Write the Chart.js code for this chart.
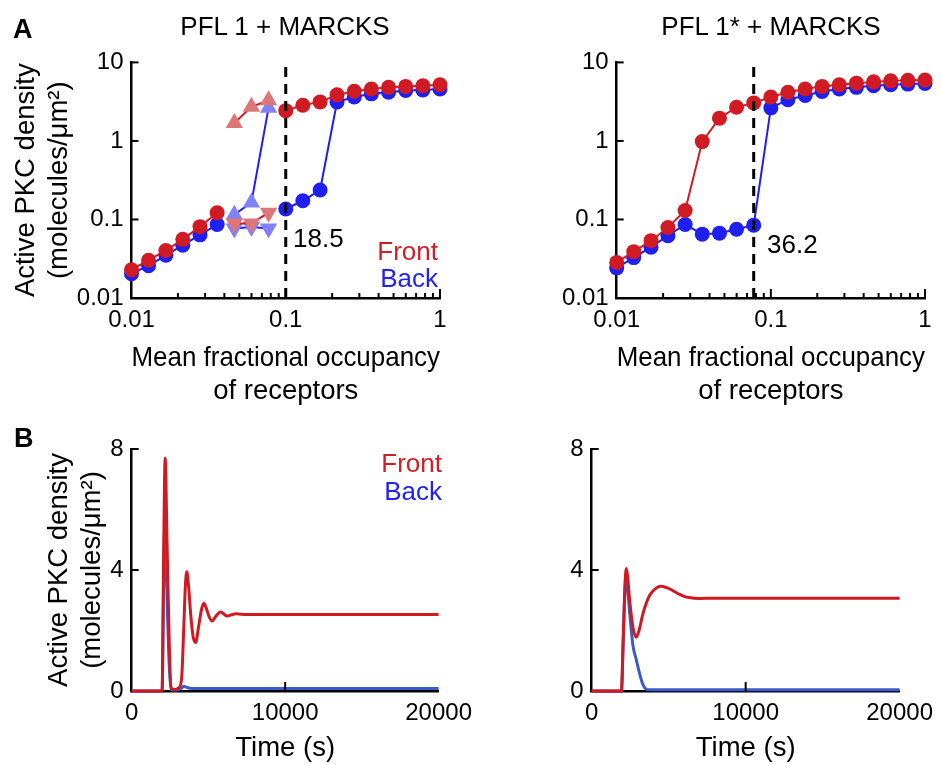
<!DOCTYPE html>
<html>
<head>
<meta charset="utf-8">
<script src="https://cdn.jsdelivr.net/npm/chart.js@4.4.0/dist/chart.umd.min.js"></script>
<style>
    body { margin: 0; width: 941px; height: 765px; background: #fff; position: relative; overflow: hidden;
           font-family: "Liberation Sans", Arial, sans-serif; }
    canvas { position: absolute; }
    .txt { position: absolute; font-size: 26px; line-height: 26px; white-space: nowrap; color: #000; }
    .panel { font-weight: bold; font-size: 27px; line-height: 27px; }
    .title { width: 400px; text-align: center; }
    .legend { width: 100px; text-align: right; }
    .front { color: #d11f26; }
    .back { color: #2222f0; }
</style>
</head>
<body>
<canvas id="chartA1" width="470" height="400" style="left:0;top:40px"></canvas>
<canvas id="chartA2" width="461" height="400" style="left:480px;top:40px"></canvas>
<canvas id="chartB1" width="480" height="345" style="left:0;top:420px"></canvas>
<canvas id="chartB2" width="461" height="345" style="left:480px;top:420px"></canvas>

<div class="txt panel" style="left:13px;top:16px">A</div>
<div class="txt panel" style="left:14px;top:425px">B</div>
<div class="txt title" style="left:85px;top:13px">PFL 1 + MARCKS</div>
<div class="txt title" style="left:571px;top:13px">PFL 1* + MARCKS</div>
<div class="txt legend front" style="left:338px;top:238px">Front</div>
<div class="txt legend back" style="left:338px;top:265px">Back</div>
<div class="txt" style="left:293px;top:225px">18.5</div>
<div class="txt" style="left:767px;top:231px">36.2</div>
<div class="txt legend front" style="left:342px;top:450px">Front</div>
<div class="txt legend back" style="left:342px;top:478px">Back</div>

<script>
// Panel A: steady-state PKC vs. mean receptor occupancy (log-log)
const occupancy = [0.01, 0.0129, 0.0167, 0.0215, 0.0278, 0.0359, 0.0464, 0.0599, 0.0774, 0.1,
                   0.129, 0.167, 0.215, 0.278, 0.359, 0.464, 0.599, 0.774, 1];
const pfl1Front = [0.0229, 0.0303, 0.0403, 0.0558, 0.081, 0.122, null, null, null, 2.43,
                   2.85, 3.14, 3.86, 4.29, 4.59, 4.81, 4.95, 5.05, 5.19];
const pfl1Back  = [0.0204, 0.0258, 0.035, 0.047, 0.0637, 0.0863, null, null, null, 0.136,
                   0.173, 0.237, 3.14, 3.62, 3.98, 4.17, 4.38, 4.46, 4.59];
// bistable branches (faded triangles)
const branchOcc      = [0.0464, 0.0599, 0.0774];
const pfl1FrontUp    = [1.69, 2.72, 3.29];
const pfl1FrontDown  = [0.089, 0.089, 0.122];
const pfl1BackUp     = [0.115, 0.165, 2.65];
const pfl1BackDown   = [0.077, 0.08, 0.077];
const pfl1sFront = [0.0284, 0.0389, 0.0537, 0.079, 0.130, 0.98, 1.95, 2.69, 3.05, 3.62,
                    4.17, 4.59, 4.95, 5.19, 5.44, 5.65, 5.82, 5.93, 5.98];
const pfl1sBack  = [0.0242, 0.0327, 0.0444, 0.062, 0.0863, 0.065, 0.0669, 0.075, 0.0847, 2.64,
                    3.35, 3.79, 4.26, 4.59, 4.81, 5.05, 5.19, 5.29, 5.39];
const thresholdA1 = 0.1;
const thresholdA2 = 0.0774;
const occTicks = [0.01, 0.1, 1];
const pkcTicks = [0.01, 0.1, 1, 10];
const occMinor = [0.02, 0.03, 0.04, 0.05, 0.06, 0.07, 0.08, 0.09, 0.2, 0.3, 0.4, 0.5, 0.6, 0.7, 0.8, 0.9];

// Panel B: time courses
const timeB1  = [0, 1980, 2080, 2180, 2300, 2450, 2570, 2800, 3050, 3250, 3400, 3500, 3590, 3700, 3850, 4000,
                 4170, 4350, 4550, 4700, 4850, 5050, 5240, 5450, 5780, 6000, 6200, 6500, 6800, 7500, 20000];
const frontB1 = [0, 0, 4.5, 7.7, 5.0, 1.5, 0.1, 0.05, 0.1, 0.4, 2.2, 3.5, 3.94, 3.5, 2.5, 1.8,
                 1.6, 2.1, 2.7, 2.9, 2.75, 2.45, 2.31, 2.45, 2.61, 2.55, 2.48, 2.52, 2.55, 2.53, 2.53];
const backB1  = [0, 0, 3.5, 6.0, 3.2, 0.8, 0.05, 0.03, 0.05, 0.1, 0.16, 0.14, 0.12, 0.1, 0.09, 0.08,
                 0.08, 0.08, 0.08, 0.08, 0.08, 0.08, 0.08, 0.08, 0.08, 0.08, 0.08, 0.08, 0.08, 0.08, 0.08];
const timeB2  = [0, 1930, 2050, 2150, 2250, 2350, 2465, 2680, 2890, 3100, 3300, 3540, 3750, 3965, 4250,
                 4500, 4800, 5040, 5400, 5680, 6000, 6320, 6970, 8000, 20000];
const frontB2 = [0, 0, 1.8, 3.4, 4.05, 3.7, 3.0, 2.1, 1.78, 2.05, 2.5, 2.9, 3.15, 3.3, 3.42,
                 3.46, 3.43, 3.38, 3.28, 3.2, 3.13, 3.09, 3.06, 3.07, 3.07];
const backB2  = [0, 0, 1.7, 3.2, 3.8, 3.3, 2.6, 1.5, 1.05, 0.6, 0.25, 0.06, 0.04, 0.04, 0.04,
                 0.04, 0.04, 0.04, 0.04, 0.04, 0.04, 0.04, 0.04, 0.04, 0.04];
const timeTicks = [0, 10000, 20000];
const densityTicks = [0, 4, 8];

const FONT = "'Liberation Sans', Arial, sans-serif";
const RED = '#d11b24', BLUE = '#1f1ff0';
const RED_FADED = '#dd7676', BLUE_FADED = '#8282f8';
const RED_B = '#d01a22', BLUE_B = '#3b5bc8';
const Y_TITLE = ['Active PKC density', '(molecules/\u03bcm\u00b2)'];

// MATLAB style ticks pointing into the axes
const inwardTicks = {
    id: 'inwardTicks',
    afterDraw(chart, args, opts) {
        const ctx = chart.ctx;
        const area = chart.chartArea;
        const xs = chart.scales.x, ys = chart.scales.y;
        ctx.save();
        ctx.strokeStyle = '#000';
        ctx.lineWidth = 2;
        const seg = (x1, y1, x2, y2) => { ctx.beginPath(); ctx.moveTo(x1, y1); ctx.lineTo(x2, y2); ctx.stroke(); };
        (opts.xMajor || []).forEach(v => { const p = xs.getPixelForValue(v); seg(p, area.bottom, p, area.bottom - 9); });
        (opts.xMinor || []).forEach(v => { const p = xs.getPixelForValue(v); seg(p, area.bottom, p, area.bottom - 5); });
        (opts.yMajor || []).forEach(v => { const p = ys.getPixelForValue(v); seg(area.left, p, area.left + 7, p); });
        ctx.restore();
    }
};
Chart.register(inwardTicks);

function pts(xs, ys) {
    return xs.map((x, i) => ({ x: x, y: ys[i] }));
}

function markerSet(data, color, style, radius, lineColor, rotation) {
    return {
        data: data,
        borderColor: lineColor || color,
        backgroundColor: color,
        pointBackgroundColor: color,
        pointBorderColor: color,
        pointBorderWidth: 0,
        pointStyle: style,
        pointRadius: radius,
        pointRotation: rotation || 0,
        borderWidth: 2,
        spanGaps: false,
        clip: false
    };
}

function traceSet(data, color) {
    return {
        data: data,
        borderColor: color,
        borderWidth: 3,
        pointRadius: 0,
        cubicInterpolationMode: 'monotone',
        clip: false
    };
}

function thresholdSet(x) {
    return {
        data: [{ x: x, y: 0.01 }, { x: x, y: 10 }],
        borderColor: '#000',
        borderWidth: 3,
        borderDash: [10, 7],
        pointRadius: 0,
        clip: false
    };
}

function axis(type, min, max, ticks, fitKey, fitSize, title, titlePad) {
    return {
        type: type, min: min, max: max,
        afterBuildTicks: s => { s.ticks = ticks.map(v => ({ value: v })); },
        afterFit: s => { s[fitKey] = fitSize; },
        grid: { drawOnChartArea: false, drawTicks: false },
        border: { color: '#000', width: 2.5 },
        ticks: {
            color: '#000', autoSkip: false, maxRotation: 0, padding: 8,
            font: { family: FONT, size: 24 },
            callback: v => String(v)
        },
        title: {
            display: !!title, text: title || '', color: '#000',
            font: { family: FONT, size: 27.5, lineHeight: 1.2 },
            padding: titlePad || 0
        }
    };
}

function makeChart(id, datasets, scales, padding, tickOpts) {
    return new Chart(document.getElementById(id), {
        type: 'line',
        data: { datasets: datasets },
        options: {
            responsive: false,
            animation: false,
            devicePixelRatio: 1,
            events: [],
            layout: { padding: padding },
            plugins: { legend: { display: false }, tooltip: { enabled: false }, inwardTicks: tickOpts },
            scales: scales
        }
    });
}

const logTicks = { xMajor: [0.1, 1], xMinor: occMinor, yMajor: [0.1, 1, 10] };
const occTitle = ['Mean fractional occupancy', 'of receptors'];

// A, left: PFL 1 + MARCKS
makeChart('chartA1', [
    thresholdSet(thresholdA1),
    markerSet(pts(occupancy, pfl1Front), RED, 'circle', 7.5),
    markerSet(pts(branchOcc, pfl1FrontUp), RED_FADED, 'triangle', 10, RED),
    markerSet(pts(branchOcc, pfl1FrontDown), RED_FADED, 'triangle', 10, RED, 180),
    markerSet(pts(occupancy, pfl1Back), BLUE, 'circle', 7.5),
    markerSet(pts(branchOcc, pfl1BackUp), BLUE_FADED, 'triangle', 10, BLUE),
    markerSet(pts(branchOcc, pfl1BackDown), BLUE_FADED, 'triangle', 10, BLUE, 180)
], {
    x: axis('logarithmic', 0.01, 1, occTicks, 'height', 142, occTitle, { top: 0, bottom: 32.5 }),
    y: axis('logarithmic', 0.01, 10, pkcTicks, 'width', 131.5, Y_TITLE, { top: 9.5, bottom: 0 })
}, { left: 0, top: 16, right: 30, bottom: 0 }, logTicks);

// A, right: PFL 1* + MARCKS
makeChart('chartA2', [
    thresholdSet(thresholdA2),
    markerSet(pts(occupancy, pfl1sFront), RED, 'circle', 7.5),
    markerSet(pts(occupancy, pfl1sBack), BLUE, 'circle', 7.5)
], {
    x: axis('logarithmic', 0.01, 1, occTicks, 'height', 142, occTitle, { top: 0, bottom: 32.5 }),
    y: axis('logarithmic', 0.01, 10, pkcTicks, 'width', 136.7)
}, { left: 0, top: 16, right: 16, bottom: 0 }, logTicks);

// B, time courses
const timeTickOpts = { xMajor: [10000], yMajor: [4, 8] };

makeChart('chartB1', [
    traceSet(pts(timeB1, frontB1), RED_B),
    traceSet(pts(timeB1, backB1), BLUE_B)
], {
    x: axis('linear', 0, 20000, timeTicks, 'height', 74, 'Time (s)', { top: 0, bottom: 0.5 }),
    y: axis('linear', 0, 8, densityTicks, 'width', 131.7, Y_TITLE, { top: 42.5, bottom: 0 })
}, { left: 0, top: 29, right: 37, bottom: 0 }, timeTickOpts);

makeChart('chartB2', [
    traceSet(pts(timeB2, frontB2), RED_B),
    traceSet(pts(timeB2, backB2), BLUE_B)
], {
    x: axis('linear', 0, 20000, timeTicks, 'height', 74, 'Time (s)', { top: 0, bottom: 0.5 }),
    y: axis('linear', 0, 8, densityTicks, 'width', 111.7)
}, { left: 0, top: 29, right: 38.3, bottom: 0 }, timeTickOpts);
</script>
</body>
</html>
